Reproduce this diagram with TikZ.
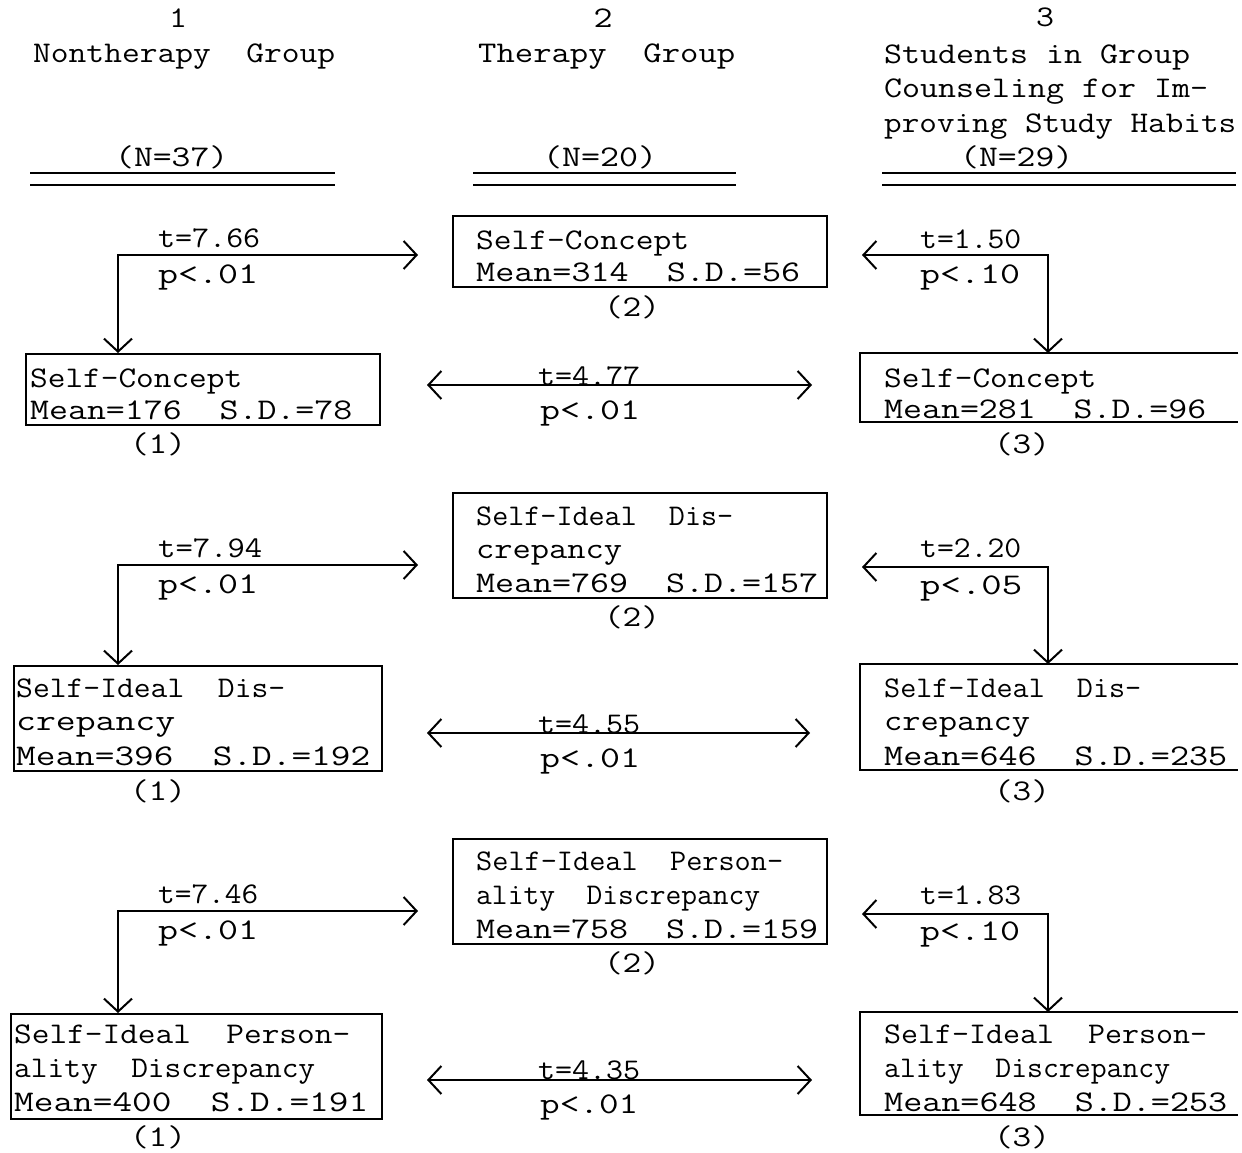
\documentclass[tikz,border=0pt]{standalone}
\usepackage{fontspec}
\usetikzlibrary{arrows.meta}
\newcommand\fitt[2]{\resizebox{#1pt}{\height}{#2}}
\begin{document}
\begin{tikzpicture}[x=1pt,y=-1pt,
  txt/.style={anchor=base west, inner sep=0pt, font=\fontsize{30}{34}\ttfamily},
  ctr/.style={anchor=base, inner sep=0pt, font=\fontsize{30}{34}\ttfamily},
  box/.style={draw, line width=2pt, inner sep=0pt, anchor=north west},
  obox/.style={inner sep=0pt, anchor=north west},
  con/.style={line width=2pt, {Straight Barb[length=13pt,width=28pt]}-{Straight Barb[length=13pt,width=28pt]}},
  rulel/.style={line width=1.8pt}]
\useasboundingbox (0,0) rectangle (1242,1153);

% ---------------- headers
\node[ctr] (h1) at (178,28) {\fitt{18}{1}};
\node[txt] (h1n) at (33,63) {\fitt{302}{Nontherapy\ \ Group}};
\node[ctr] (h2) at (603,28) {\fitt{19}{2}};
\node[txt] (h2n) at (478,63) {\fitt{257}{Therapy\ \ Group}};
\node[ctr] (h3) at (1045,27) {\fitt{18}{3}};
\node[txt] (h3a) at (884,64) {\fitt{306}{Students\ in\ Group}};
\node[txt] (h3b) at (884,98) {\fitt{324}{Counseling\ for\ Im-}};
\node[txt] (h3c) at (884,133) {\fitt{352}{proving\ Study\ Habits}};
\node[txt] (n1) at (115,166) {\fitt{113}{(N=37)}};
\node[txt] (n2) at (543,166) {\fitt{114}{(N=20)}};
\node[txt] (n3) at (960,166) {\fitt{113}{(N=29)}};
\draw[rulel] (30,173) -- (335,173);
\draw[rulel] (30,185) -- (335,185);
\draw[rulel] (473,173) -- (736,173);
\draw[rulel] (473,185) -- (736,185);
\draw[rulel] (882,173) -- (1236,173);
\draw[rulel] (882,185) -- (1236,185);

% ---------------- row 1 : Self-Concept
\node[box, minimum width=374pt, minimum height=71pt] (b2r1) at (452,215) {};
\node[txt] (b2r1a) at (476,249) {\fitt{213}{Self-Concept}};
\node[txt] (b2r1b) at (476,281) {\fitt{324}{Mean=314\ \ S.D.=56}};
\node[ctr] (g2r1) at (632,316) {\fitt{56}{(2)}};

\node[box, minimum width=354pt, minimum height=71pt] (b1r1) at (25,353) {};
\node[txt] (b1r1a) at (30,387) {\fitt{212}{Self-Concept}};
\node[txt] (b1r1b) at (30,419) {\fitt{322}{Mean=176\ \ S.D.=78}};
\node[ctr] (g1r1) at (158,453) {\fitt{56}{(1)}};

\node[obox, minimum width=378pt, minimum height=69pt] (b3r1) at (860,353) {};
\draw[line width=2pt] (b3r1.north east) -- (b3r1.north west) -- (b3r1.south west) -- (b3r1.south east);
\node[txt] (b3r1a) at (884,387) {\fitt{212}{Self-Concept}};
\node[txt] (b3r1b) at (884,418) {\fitt{322}{Mean=281\ \ S.D.=96}};
\node[ctr] (g3r1) at (1022,453) {\fitt{56}{(3)}};

\coordinate (lt1) at (418,255);
\coordinate (lk1) at (118,255);
\draw[con] (lt1) -- (lk1) -- (lk1 |- b1r1.north);
\node[txt] (lt1t) at (158,247) {\fitt{102}{t=7.66}};
\node[txt] (lt1p) at (158,283) {\fitt{100}{p<.01}};

\coordinate (rt1) at (862,255);
\coordinate (rk1) at (1048,255);
\draw[con] (rt1) -- (rk1) -- (rk1 |- b3r1.north);
\node[txt] (rt1t) at (920,248) {\fitt{101}{t=1.50}};
\node[txt] (rt1p) at (920,283) {\fitt{100}{p<.10}};

\coordinate (ml1) at (427,385);
\coordinate (mr1) at (812,385);
\draw[con] (ml1) -- (mr1);
\node[txt] (m1t) at (538,385) {\fitt{102}{t=4.77}};
\node[txt] (m1p) at (540,419) {\fitt{100}{p<.01}};

% ---------------- row 2 : Self-Ideal Discrepancy
\node[box, minimum width=374pt, minimum height=105pt] (b2r2) at (452,492) {};
\node[txt] (b2r2a) at (476,525) {\fitt{257}{Self-Ideal\ \ Dis-}};
\node[txt] (b2r2b) at (476,558) {\fitt{146}{crepancy}};
\node[txt] (b2r2c) at (476,592) {\fitt{342}{Mean=769\ \ S.D.=157}};
\node[ctr] (g2r2) at (632,626) {\fitt{56}{(2)}};

\node[box, minimum width=368pt, minimum height=105pt] (b1r2) at (13,665) {};
\node[txt] (b1r2a) at (16,697) {\fitt{269}{Self-Ideal\ \ Dis-}};
\node[txt] (b1r2b) at (16,730) {\fitt{159}{crepancy}};
\node[txt] (b1r2c) at (16,765) {\fitt{354}{Mean=396\ \ S.D.=192}};
\node[ctr] (g1r2) at (158,800) {\fitt{56}{(1)}};

\node[obox, minimum width=378pt, minimum height=106pt] (b3r2) at (860,664) {};
\draw[line width=2pt] (b3r2.north east) -- (b3r2.north west) -- (b3r2.south west) -- (b3r2.south east);
\node[txt] (b3r2a) at (884,697) {\fitt{257}{Self-Ideal\ \ Dis-}};
\node[txt] (b3r2b) at (884,730) {\fitt{146}{crepancy}};
\node[txt] (b3r2c) at (884,765) {\fitt{343}{Mean=646\ \ S.D.=235}};
\node[ctr] (g3r2) at (1022,800) {\fitt{56}{(3)}};

\coordinate (lt2) at (418,565);
\coordinate (lk2) at (118,565);
\draw[con] (lt2) -- (lk2) -- (lk2 |- b1r2.north);
\node[txt] (lt2t) at (158,557) {\fitt{104}{t=7.94}};
\node[txt] (lt2p) at (158,593) {\fitt{100}{p<.01}};

\coordinate (rt2) at (862,567);
\coordinate (rk2) at (1048,567);
\draw[con] (rt2) -- (rk2) -- (rk2 |- b3r2.north);
\node[txt] (rt2t) at (920,557) {\fitt{101}{t=2.20}};
\node[txt] (rt2p) at (920,594) {\fitt{102}{p<.05}};

\coordinate (ml2) at (427,733);
\coordinate (mr2) at (810,733);
\draw[con] (ml2) -- (mr2);
\node[txt] (m2t) at (538,733) {\fitt{102}{t=4.55}};
\node[txt] (m2p) at (540,767) {\fitt{100}{p<.01}};

% ---------------- row 3 : Self-Ideal Personality Discrepancy
\node[box, minimum width=374pt, minimum height=105pt] (b2r3) at (452,838) {};
\node[txt] (b2r3a) at (476,870) {\fitt{307}{Self-Ideal\ \ Person-}};
\node[txt] (b2r3b) at (476,904) {\fitt{284}{ality\ \ Discrepancy}};
\node[txt] (b2r3c) at (476,938) {\fitt{342}{Mean=758\ \ S.D.=159}};
\node[ctr] (g2r3) at (632,972) {\fitt{56}{(2)}};

\node[box, minimum width=371pt, minimum height=105pt] (b1r3) at (10,1013) {};
\node[txt] (b1r3a) at (14,1043) {\fitt{336}{Self-Ideal\ \ Person-}};
\node[txt] (b1r3b) at (14,1077) {\fitt{301}{ality\ \ Discrepancy}};
\node[txt] (b1r3c) at (14,1111) {\fitt{354}{Mean=400\ \ S.D.=191}};
\node[ctr] (g1r3) at (158,1146) {\fitt{56}{(1)}};

\node[obox, minimum width=378pt, minimum height=103pt] (b3r3) at (860,1012) {};
\draw[line width=2pt] (b3r3.north east) -- (b3r3.north west) -- (b3r3.south west) -- (b3r3.south east);
\node[txt] (b3r3a) at (884,1043) {\fitt{323}{Self-Ideal\ \ Person-}};
\node[txt] (b3r3b) at (884,1077) {\fitt{286}{ality\ \ Discrepancy}};
\node[txt] (b3r3c) at (884,1111) {\fitt{343}{Mean=648\ \ S.D.=253}};
\node[ctr] (g3r3) at (1022,1146) {\fitt{56}{(3)}};

\coordinate (lt3) at (418,911);
\coordinate (lk3) at (118,911);
\draw[con] (lt3) -- (lk3) -- (lk3 |- b1r3.north);
\node[txt] (lt3t) at (158,903) {\fitt{100}{t=7.46}};
\node[txt] (lt3p) at (158,939) {\fitt{100}{p<.01}};

\coordinate (rt3) at (862,914);
\coordinate (rk3) at (1048,914);
\draw[con] (rt3) -- (rk3) -- (rk3 |- b3r3.north);
\node[txt] (rt3t) at (920,904) {\fitt{101}{t=1.83}};
\node[txt] (rt3p) at (920,940) {\fitt{100}{p<.10}};

\coordinate (ml3) at (427,1080);
\coordinate (mr3) at (812,1080);
\draw[con] (ml3) -- (mr3);
\node[txt] (m3t) at (538,1079) {\fitt{102}{t=4.35}};
\node[txt] (m3p) at (540,1113) {\fitt{98}{p<.01}};
\end{tikzpicture}
\end{document}
